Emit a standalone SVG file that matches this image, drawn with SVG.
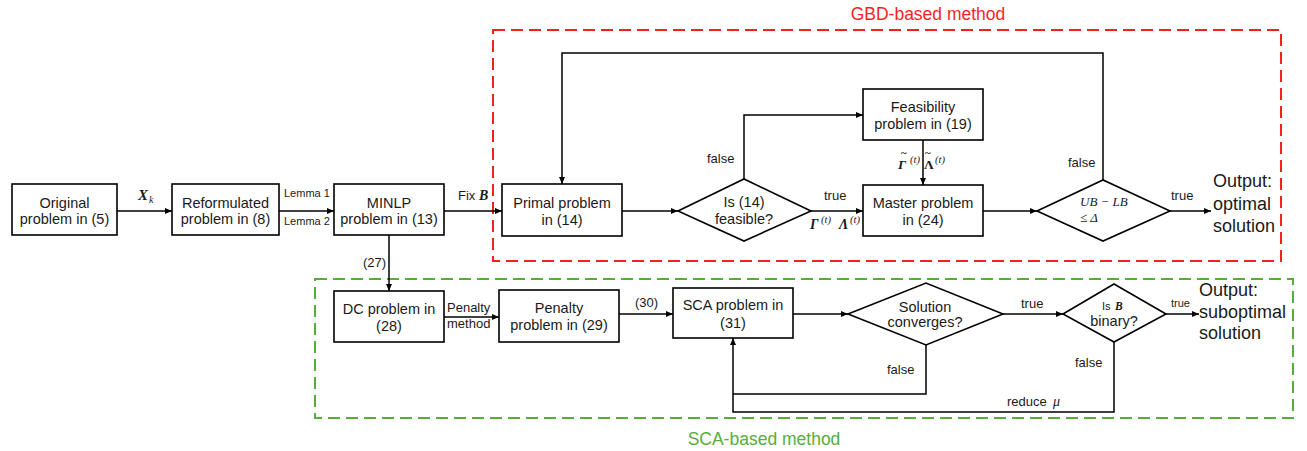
<svg xmlns="http://www.w3.org/2000/svg" width="1307" height="451" viewBox="0 0 1307 451">
<style>
  .box { fill: #fff; stroke: #000; stroke-width: 1.6; }
  .dia { fill: #fff; stroke: #000; stroke-width: 1.6; }
  .ln { fill: none; stroke: #000; stroke-width: 1.5; }
  .arr { marker-end: url(#ah); }
  .t { font-family: "Liberation Sans", Arial, sans-serif; font-size: 14.5px; fill: #1a1a1a; text-anchor: middle; }
  .lbl { font-family: "Liberation Sans", Arial, sans-serif; font-size: 13px; fill: #1a1a1a; }
  .sm { font-family: "Liberation Sans", Arial, sans-serif; font-size: 11px; fill: #1a1a1a; }
  .out { font-family: "Liberation Sans", Arial, sans-serif; font-size: 18px; fill: #1a1a1a; }
  .m { font-family: "Liberation Serif", "Times New Roman", serif; font-weight: bold; font-style: italic; fill: #1a1a1a; }
  .mu { font-family: "Liberation Serif", "Times New Roman", serif; font-weight: bold; fill: #1a1a1a; }
  .mi { font-family: "Liberation Serif", "Times New Roman", serif; font-style: italic; fill: #1a1a1a; }
  .sup { font-family: "Liberation Serif", "Times New Roman", serif; font-style: italic; font-size: 10.5px; fill: #1a1a1a; }
</style>
<defs>
  <marker id="ah" markerUnits="userSpaceOnUse" markerWidth="8" markerHeight="7" refX="7" refY="3" orient="auto">
    <path d="M0,0 L7,3 L0,6 z" fill="#000"/>
  </marker>
</defs>

<!-- group frames -->
<g id="gbd-group">
  <rect x="493" y="30" width="788" height="231" fill="none" stroke="#FF1E1E" stroke-width="2" stroke-dasharray="12,6"/>
  <text x="928" y="20" font-family="Liberation Sans, Arial, sans-serif" font-size="17.5" fill="#FF1E1E" text-anchor="middle">GBD-based method</text>
</g>
<g id="sca-group">
  <rect x="315" y="279" width="978" height="139" fill="none" stroke="#56AE3A" stroke-width="2" stroke-dasharray="12,6"/>
  <text x="764" y="445" font-family="Liberation Sans, Arial, sans-serif" font-size="17.5" fill="#56AE3A" text-anchor="middle">SCA-based method</text>
</g>

<!-- connectors -->
<g id="connectors">
  <line class="ln arr" x1="117" y1="211" x2="172" y2="211"/>
  <line class="ln arr" x1="279" y1="211" x2="334" y2="211"/>
  <line class="ln arr" x1="444" y1="211" x2="502" y2="211"/>
  <line class="ln arr" x1="622" y1="211" x2="678" y2="211"/>
  <line class="ln arr" x1="811" y1="211" x2="863" y2="211"/>
  <line class="ln arr" x1="983" y1="211" x2="1037" y2="211"/>
  <line class="ln arr" x1="1170" y1="211" x2="1211" y2="211"/>
  <polyline class="ln arr" points="744,179 744,115 863,115"/>
  <line class="ln arr" x1="923" y1="140" x2="923" y2="185"/>
  <polyline class="ln arr" points="1103,180 1103,53 562,53 562,184"/>
  <line class="ln arr" x1="389" y1="235" x2="389" y2="291"/>
  <line class="ln arr" x1="444" y1="317" x2="499" y2="317"/>
  <line class="ln arr" x1="619" y1="314" x2="673" y2="314"/>
  <line class="ln arr" x1="793" y1="314" x2="848" y2="314"/>
  <line class="ln arr" x1="1003" y1="314" x2="1063" y2="314"/>
  <line class="ln arr" x1="1166" y1="314" x2="1199" y2="314"/>
  <polyline class="ln" points="926,345 926,394 733,394"/>
  <polyline class="ln arr" points="1114,342 1114,412 733,412 733,338"/>

  <!-- connector labels -->
  <text x="138" y="200" class="m" font-size="15">X</text>
  <text x="149" y="203" class="mi" font-size="10">k</text>
  <text x="284" y="197" class="sm">Lemma 1</text>
  <text x="284" y="225" class="sm">Lemma 2</text>
  <text x="458" y="200" class="lbl">Fix</text>
  <text x="479" y="200" class="m" font-size="14">B</text>
  <text x="363" y="267" class="lbl">(27)</text>
  <text x="707" y="163" class="lbl">false</text>
  <text x="824" y="200" class="lbl">true</text>

  <text x="810" y="229" class="m" font-size="14">Γ</text>
  <text x="821" y="223" class="sup">(t)</text>
  <text x="839" y="229" class="m" font-size="14">Λ</text>
  <text x="850" y="223" class="sup">(t)</text>

  <text x="901" y="156" class="mu" font-size="11">~</text>
  <text x="898" y="169" class="m" font-size="13.5">Γ</text>
  <text x="910" y="163" class="sup">(t)</text>
  <text x="925" y="156" class="mu" font-size="11">~</text>
  <text x="924" y="169" class="mu" font-size="13.5">Λ</text>
  <text x="935" y="163" class="sup">(t)</text>

  <text x="1068" y="167" class="lbl">false</text>
  <text x="1171" y="200" class="lbl">true</text>
  <text x="447" y="312" class="lbl">Penalty</text>
  <text x="447" y="328" class="lbl">method</text>
  <text x="635" y="307" class="lbl">(30)</text>
  <text x="1021" y="308" class="lbl">true</text>
  <text x="1171" y="307" class="sm" font-size="12">true</text>
  <text x="887" y="374" class="lbl">false</text>
  <text x="1075" y="367" class="lbl">false</text>
  <text x="1007" y="406" class="lbl">reduce</text>
  <text x="1053" y="406" class="mi" font-size="14">μ</text>
</g>

<!-- nodes -->
<g id="original">
  <rect class="box" x="12" y="184" width="105" height="51"/>
  <text class="t" x="64.5" y="208">Original</text>
  <text class="t" x="64.5" y="224">problem in (5)</text>
</g>
<g id="reformulated">
  <rect class="box" x="172" y="184" width="107" height="51"/>
  <text class="t" x="225.5" y="208">Reformulated</text>
  <text class="t" x="225.5" y="224">problem in (8)</text>
</g>
<g id="minlp">
  <rect class="box" x="334" y="184" width="110" height="51"/>
  <text class="t" x="389" y="208">MINLP</text>
  <text class="t" x="389" y="224">problem in (13)</text>
</g>
<g id="primal">
  <rect class="box" x="502" y="184" width="120" height="52"/>
  <text class="t" x="562" y="208">Primal problem</text>
  <text class="t" x="562" y="225">in (14)</text>
</g>
<g id="feasible-check">
  <polygon class="dia" points="678,211 744,179 811,211 744,241"/>
  <text class="t" x="744" y="207">Is (14)</text>
  <text class="t" x="744" y="224">feasible?</text>
</g>
<g id="feasibility">
  <rect class="box" x="863" y="89" width="120" height="51"/>
  <text class="t" x="923" y="112">Feasibility</text>
  <text class="t" x="923" y="129">problem in (19)</text>
</g>
<g id="master">
  <rect class="box" x="863" y="185" width="120" height="51"/>
  <text class="t" x="923" y="208">Master problem</text>
  <text class="t" x="923" y="225">in (24)</text>
</g>
<g id="bound-check">
  <polygon class="dia" points="1037,211 1103,180 1170,211 1103,241"/>
  <text class="mi" x="1080" y="206" font-size="13">UB − LB</text>
  <text class="mi" x="1080" y="222" font-size="13">≤ Δ</text>
</g>
<g id="output-optimal">
  <text class="out" x="1213" y="187">Output:</text>
  <text class="out" x="1213" y="210">optimal</text>
  <text class="out" x="1213" y="232">solution</text>
</g>
<g id="dc">
  <rect class="box" x="334" y="291" width="110" height="51"/>
  <text class="t" x="389" y="314">DC problem in</text>
  <text class="t" x="389" y="331">(28)</text>
</g>
<g id="penalty">
  <rect class="box" x="499" y="290" width="120" height="52"/>
  <text class="t" x="559" y="313">Penalty</text>
  <text class="t" x="559" y="330">problem in (29)</text>
</g>
<g id="sca">
  <rect class="box" x="673" y="288" width="120" height="50"/>
  <text class="t" x="733" y="310">SCA problem in</text>
  <text class="t" x="733" y="328">(31)</text>
</g>
<g id="converge-check">
  <polygon class="dia" points="848,314 926,283 1003,314 926,345"/>
  <text class="t" x="925" y="312" font-size="12">Solution</text>
  <text class="t" x="925" y="327" font-size="12">converges?</text>
</g>
<g id="binary-check">
  <polygon class="dia" points="1063,314 1114,284 1166,314 1114,342"/>
  <text class="sm" x="1102" y="310">Is</text>
  <text class="m" x="1115" y="310" font-size="11.5">B</text>
  <text class="t" x="1114" y="326" font-size="11">binary?</text>
</g>
<g id="output-suboptimal">
  <text class="out" x="1199" y="296">Output:</text>
  <text class="out" x="1199" y="318">suboptimal</text>
  <text class="out" x="1199" y="339">solution</text>
</g>
</svg>
